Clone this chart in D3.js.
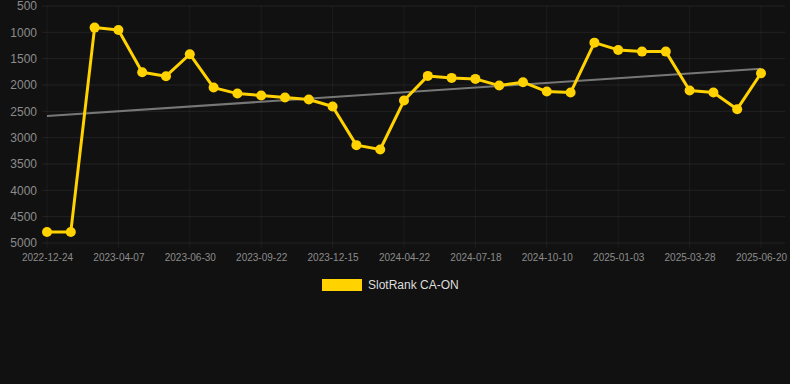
<!DOCTYPE html>
<html><head><meta charset="utf-8">
<script src="https://cdn.jsdelivr.net/npm/d3@7"></script>
<style>
html,body{margin:0;padding:0;background:#111111;}
svg{display:block;}
</style></head>
<body>
<svg id="chart" width="790" height="384"></svg>
<script>
const seriesName = "SlotRank CA-ON";
const rankValues = [4790,4790,910,955,1757,1833,1416,2049,2163,2200,2238,2276,2409,3142,3225,2295,1827,1865,1884,2011,1947,2125,2144,1196,1334,1366,1366,2106,2144,2459,1776];
const tickLabels = ["2022-12-24","2023-04-07","2023-06-30","2023-09-22","2023-12-15","2024-04-22","2024-07-18","2024-10-10","2025-01-03","2025-03-28","2025-06-20"];
const tickEvery = 3;
const yTicks = [500,1000,1500,2000,2500,3000,3500,4000,4500,5000];
const trendValues = [2588, 1690];

const svg = d3.select("#chart");
const W = 790, H = 384;
const m = {left: 47, right: 29, top: 6, bottom: 141};
const plotLeft = 42, plotRight = 785;

const idx = d3.range(rankValues.length);
const x = d3.scalePoint().domain(idx).range([m.left, W - m.right]);
const y = d3.scaleLinear().domain([500, 5000]).range([m.top, H - m.bottom]);

const font = "'Liberation Sans', Arial, Helvetica, sans-serif";

// horizontal grid
svg.append("g").selectAll("line").data(yTicks).join("line")
  .attr("x1", plotLeft).attr("x2", plotRight)
  .attr("y1", d => y(d)).attr("y2", d => y(d))
  .attr("stroke", "rgba(255,255,255,0.07)").attr("stroke-width", 1);

// vertical grid at labelled ticks
const tickIdx = idx.filter(i => i % tickEvery === 0);
svg.append("g").selectAll("line").data(tickIdx).join("line")
  .attr("x1", d => x(d)).attr("x2", d => x(d))
  .attr("y1", m.top).attr("y2", y(5000) + 5)
  .attr("stroke", "rgba(255,255,255,0.05)").attr("stroke-width", 1);

// y labels
const yAxis = d3.axisLeft(y).tickValues(yTicks).tickSize(0).tickPadding(0).tickFormat(d3.format("d"));
const gy = svg.append("g").attr("transform", "translate(37,0)").call(yAxis);
gy.select(".domain").remove();
gy.selectAll("text").attr("fill", "#8c8c8c").attr("font-size", 12).attr("font-family", font);

// x labels
const xAxis = d3.axisBottom(x).tickValues(tickIdx).tickSize(0).tickPadding(0)
  .tickFormat(d => tickLabels[d / tickEvery]);
const gx = svg.append("g").attr("transform", `translate(0,${y(5000) + 11})`).call(xAxis);
gx.select(".domain").remove();
gx.selectAll("text").attr("fill", "#8c8c8c").attr("font-size", 10).attr("font-family", font);

// trend line
svg.append("line")
  .attr("x1", x(0)).attr("x2", x(rankValues.length - 1))
  .attr("y1", y(trendValues[0])).attr("y2", y(trendValues[1]))
  .attr("stroke", "#777777").attr("stroke-width", 2);

// series line
const line = d3.line().x((d, i) => x(i)).y(d => y(d));
svg.append("path").datum(rankValues)
  .attr("d", line).attr("fill", "none")
  .attr("stroke", "#FFD200").attr("stroke-width", 3).attr("stroke-linejoin", "round");

svg.append("g").selectAll("circle").data(rankValues).join("circle")
  .attr("cx", (d, i) => x(i)).attr("cy", d => y(d)).attr("r", 5)
  .attr("fill", "#FFD200");

// legend
const lg = svg.append("g");
lg.append("rect").attr("x", 322).attr("y", 279).attr("width", 40).attr("height", 12).attr("fill", "#FFD200");
lg.append("text").attr("x", 368).attr("y", 289).text(seriesName)
  .attr("fill", "#dddddd").attr("font-size", 12).attr("font-family", font);
</script>
</body></html>
